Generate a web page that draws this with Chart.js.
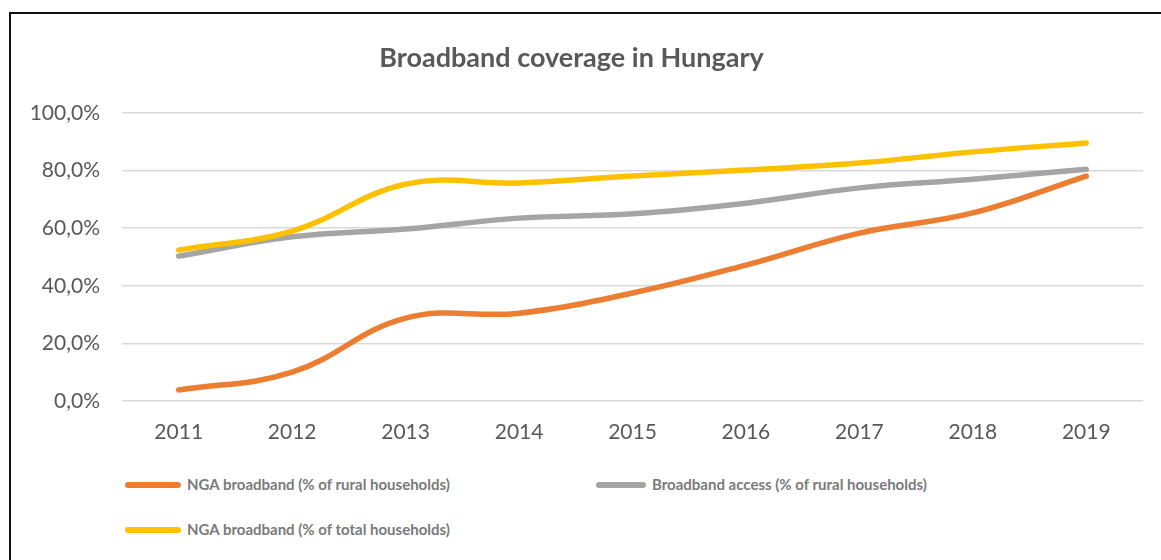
<!DOCTYPE html>
<html>
<head>
<meta charset="utf-8">
<script src="https://cdn.jsdelivr.net/npm/chart.js@4/dist/chart.umd.min.js"></script>
<style>
  html, body { margin: 0; padding: 0; background: #fff; }
  body { width: 1161px; height: 560px; position: relative; overflow: hidden; font-family: Lato, "Open Sans", sans-serif; }
  #frame { position: absolute; left: 9px; top: 12px; right: -5px; bottom: -5px; border-top: 2px solid #111; border-left: 2px solid #111; }
  #wrap { position: absolute; left: 0; top: 0; width: 1161px; height: 460px; }
  .leg { position: absolute; font-weight: bold; font-size: 15px; color: #7a7a7a; white-space: nowrap; line-height: 18px; }
  .sw { position: absolute; height: 6px; border-radius: 3px; }
</style>
</head>
<body>
<div id="frame"></div>
<div id="wrap"><canvas id="c"></canvas></div>
<div id="legend"></div>
<script>
const categories = ['2011','2012','2013','2014','2015','2016','2017','2018','2019'];
const ngaRural = [3.8, 10.0, 28.8, 30.5, 37.5, 47.2, 58.3, 65.3, 78.1];
const accessRural = [50.3, 57.0, 59.7, 63.5, 65.0, 68.7, 74.0, 77.0, 80.5];
const ngaTotal = [52.4, 59.0, 75.3, 75.7, 78.1, 80.2, 82.6, 86.5, 89.6];
const seriesNames = ['NGA broadband (% of rural households)', 'Broadband access (% of rural households)', 'NGA broadband (% of total households)'];
const seriesColors = ['#ED7D31', '#A5A5A5', '#FFC000'];
const yTicks = [0, 20, 40, 60, 80, 100];

const seriesData = [ngaRural, accessRural, ngaTotal];
const datasets = seriesData.map((d, i) => ({
  label: seriesNames[i],
  data: d,
  borderColor: seriesColors[i],
  backgroundColor: seriesColors[i],
  borderWidth: 5.5,
  borderCapStyle: 'round',
  borderJoinStyle: 'round',
  pointRadius: 0,
  tension: 0.4,
  fill: false
}));
datasets[0].order = 0; datasets[1].order = 2; datasets[2].order = 1;

const FONT = 'Lato, "Open Sans", sans-serif';
const H = 460;
new Chart(document.getElementById('c'), {
  type: 'line',
  data: { labels: categories, datasets: datasets },
  options: {
    responsive: true,
    maintainAspectRatio: false,
    animation: false,
    layout: { padding: { left: 0, right: 18, top: 0, bottom: 0 } },
    plugins: {
      legend: { display: false },
      tooltip: { enabled: false },
      title: {
        display: true,
        text: 'Broadband coverage in Hungary',
        color: '#595959',
        font: { family: FONT, size: 27, weight: 'bold', lineHeight: 1.2 },
        padding: { top: 42, bottom: 113 - 42 - 32.4 }
      }
    },
    scales: {
      x: {
        offset: true,
        grid: { display: false, drawTicks: false, offset: true },
        border: { display: false },
        ticks: { color: '#595959', font: { family: FONT, size: 21 }, padding: 19, maxRotation: 0 },
        afterFit: (s) => { s.height = H - 401; }
      },
      y: {
        min: 0, max: 100,
        afterBuildTicks: (s) => { s.ticks = yTicks.map(v => ({ value: v })); },
        grid: { color: '#d9d9d9', lineWidth: 1.5, drawTicks: false },
        border: { display: false },
        ticks: {
          color: '#595959',
          font: { family: FONT, size: 21 },
          padding: 22,
          callback: (v) => v.toFixed(1).replace('.', ',') + '%'
        },
        afterFit: (s) => { s.width = 122; }
      }
    }
  }
});

const legendPos = [
  { x: 125, y: 485, w: 56 },
  { x: 596, y: 485, w: 50 },
  { x: 125, y: 530, w: 56 }
];
const legend = document.getElementById('legend');
seriesNames.forEach((name, i) => {
  const p = legendPos[i];
  const sw = document.createElement('div');
  sw.className = 'sw';
  sw.style.left = p.x + 'px';
  sw.style.top = (p.y - 3) + 'px';
  sw.style.width = p.w + 'px';
  sw.style.background = seriesColors[i];
  legend.appendChild(sw);
  const t = document.createElement('div');
  t.className = 'leg';
  t.style.left = (p.x + p.w + 6) + 'px';
  t.style.top = (p.y - 10) + 'px';
  t.textContent = name;
  legend.appendChild(t);
});
</script>
</body>
</html>
